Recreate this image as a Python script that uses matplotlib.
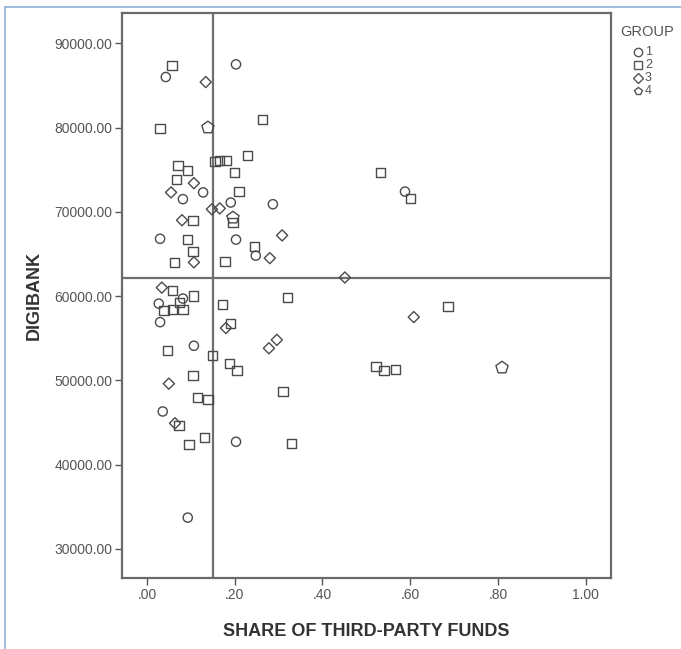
import matplotlib
matplotlib.use("Agg")
import matplotlib.pyplot as plt
from matplotlib.lines import Line2D
from matplotlib.ticker import FormatStrFormatter, FuncFormatter


# ------------------------------------------------------------
# Data: share of third-party funds vs. DIGIBANK, by group
# ------------------------------------------------------------

G1_SHARE = [0.043, 0.203, 0.128, 0.082, 0.191, 0.287, 0.030, 0.203, 0.248,
            0.588, 0.082, 0.027, 0.030, 0.107, 0.036, 0.203, 0.093]
G1_DIGIBANK = [86000, 87500, 72300, 71500, 71100, 70900, 66800, 66700, 64800,
               72400, 59700, 59100, 56900, 54100, 46300, 42700, 33700]

G2_SHARE = [0.057, 0.030, 0.264, 0.230, 0.155, 0.166, 0.182, 0.200, 0.071,
            0.093, 0.068, 0.210, 0.196, 0.105, 0.093, 0.105, 0.246, 0.062,
            0.178, 0.533, 0.601, 0.059, 0.107, 0.075, 0.039, 0.059, 0.082,
            0.173, 0.321, 0.191, 0.046, 0.150, 0.189, 0.205, 0.105, 0.116,
            0.139, 0.310, 0.073, 0.132, 0.096, 0.330, 0.522, 0.540, 0.567,
            0.686]
G2_DIGIBANK = [87400, 79900, 81000, 76700, 76000, 76100, 76100, 74700, 75500,
               74900, 73850, 72400, 68700, 69000, 66700, 65300, 65900, 64000,
               64100, 74700, 71600, 60700, 60000, 59200, 58300, 58400, 58400,
               59000, 59800, 56700, 53500, 52900, 52000, 51200, 50600, 48000,
               47700, 48700, 44600, 43200, 42400, 42500, 51600, 51200, 51300,
               58800]

G3_SHARE = [0.134, 0.107, 0.055, 0.148, 0.166, 0.080, 0.308, 0.280, 0.107,
            0.451, 0.034, 0.180, 0.278, 0.296, 0.050, 0.064, 0.608]
G3_DIGIBANK = [85400, 73400, 72300, 70300, 70400, 69000, 67200, 64500, 64000,
               62200, 61000, 56200, 53800, 54800, 49600, 44900, 57500]

G4_SHARE = [0.139, 0.196, 0.809]
G4_DIGIBANK = [80000, 69300, 51500]

GROUP_LABELS = ["1", "2", "3", "4"]

# quadrant split lines
SPLIT_SHARE = 0.150
SPLIT_DIGIBANK = 62200

X_TICKS = [0.0, 0.2, 0.4, 0.6, 0.8, 1.0]
Y_TICKS = [30000, 40000, 50000, 60000, 70000, 80000, 90000]

OUTPUT_PLOT = "out.png"


# ------------------------------------------------------------
# Plot
# ------------------------------------------------------------

def share_label(v, _pos):
    s = f"{v:.2f}"
    return s[1:] if s.startswith("0") else s


def plot_scatter():
    plt.rcParams["font.family"] = ["Liberation Sans", "DejaVu Sans"]

    fig = plt.figure(figsize=(6.81, 6.49), dpi=100)
    ax = fig.add_axes([0.179, 0.109, 0.718, 0.871])

    edge = "#4a4a4a"
    groups = [
        (G1_SHARE, G1_DIGIBANK, "o", 44),
        (G2_SHARE, G2_DIGIBANK, "s", 44),
        (G3_SHARE, G3_DIGIBANK, "D", 32),
        (G4_SHARE, G4_DIGIBANK, "p", 85),
    ]
    for xs, ys, marker, size in groups:
        ax.scatter(xs, ys, marker=marker, s=size, facecolors="none",
                   edgecolors=edge, linewidths=1.0, zorder=3)

    ax.axvline(SPLIT_SHARE, color="#6e6e6e", lw=1.6, zorder=2)
    ax.axhline(SPLIT_DIGIBANK, color="#6e6e6e", lw=1.6, zorder=2)

    ax.set_xlim(-0.057, 1.057)
    ax.set_ylim(26500, 93600)
    ax.set_xticks(X_TICKS)
    ax.set_yticks(Y_TICKS)
    ax.xaxis.set_major_formatter(FuncFormatter(share_label))
    ax.yaxis.set_major_formatter(FormatStrFormatter("%.2f"))

    for sp in ax.spines.values():
        sp.set_color("#6a6a6a")
        sp.set_linewidth(1.6)
    ax.tick_params(direction="out", length=5, width=1.0, color="#555555",
                   labelsize=10, labelcolor="#555555", pad=2)

    ax.set_xlabel("SHARE OF THIRD-PARTY FUNDS", fontsize=13, fontweight="bold",
                  color="#333333", labelpad=15)
    ax.set_ylabel("DIGIBANK", fontsize=13, fontweight="bold",
                  color="#333333", labelpad=8)

    # legend drawn by hand at the right edge
    fig.text(620 / 681, 1 - 32 / 649, "GROUP", fontsize=10.5, color="#555555",
             va="center", ha="left")
    markers = ["o", "s", "D", "p"]
    for i, (m, lab) in enumerate(zip(markers, GROUP_LABELS)):
        yy = 1 - (52 + 13 * i) / 649
        fig.add_artist(Line2D([638 / 681], [yy], marker=m,
                              markersize=6 if m != "D" else 5,
                              markerfacecolor="none", markeredgecolor="#555555",
                              markeredgewidth=1.0, linestyle="none",
                              transform=fig.transFigure))
        fig.text(645 / 681, yy, lab, fontsize=9, color="#555555",
                 va="center", ha="left")

    # thin outer frame
    frame = "#8fb2d6"
    fig.add_artist(Line2D([5 / 681, 1], [1 - 7 / 649, 1 - 7 / 649], color=frame,
                          lw=1.2, transform=fig.transFigure))
    fig.add_artist(Line2D([5 / 681, 5 / 681], [0, 1 - 7 / 649], color=frame,
                          lw=1.2, transform=fig.transFigure))

    fig.savefig(OUTPUT_PLOT, dpi=100)
    plt.close(fig)


def main():
    plot_scatter()


if __name__ == "__main__":
    main()
